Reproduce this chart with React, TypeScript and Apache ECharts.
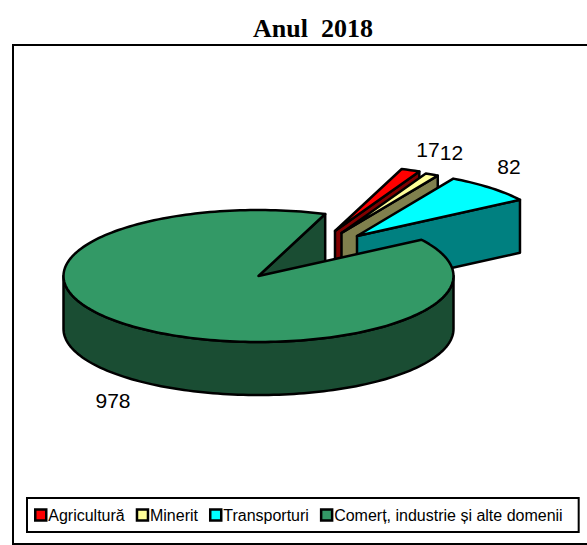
import React, { useEffect, useRef } from "react";
import * as echarts from "echarts";

const categories = ["Agricultură", "Minerit", "Transporturi", "Comerț, industrie și alte domenii"];
const values = [17, 12, 82, 978];
const titleText = "Anul  2018";

const topColors = ["#FF0000", "#FFFF99", "#00FFFF", "#339966"];
const sideColors = ["#800000", "#80804D", "#008080", "#1A4D33"];
const centers: [number, number][] = [[335, 231], [341.5, 233], [357, 236], [258.5, 276]];
const labelPos: [number, number][] = [[428, 149], [451.5, 152], [509, 166.5], [113, 400]];
const RX = 195, RY = 66, DEPTH = 53, START_DEG = 70;

const total = values.reduce((a, b) => a + b, 0);
function sliceAngles(i: number) {
  // clockwise from START_DEG, in degrees
  let acc = 0;
  for (let k = 0; k < i; k++) acc += values[k];
  const from = START_DEG - (acc / total) * 360;
  const to = from - (values[i] / total) * 360;
  return [from, to];
}
const pt = (c: [number, number], deg: number, dy = 0): [number, number] => {
  const r = (deg * Math.PI) / 180;
  return [c[0] + RX * Math.cos(r), c[1] - RY * Math.sin(r) + dy];
};
function arc(c: [number, number], a: number, b: number, dy = 0) {
  const n = Math.max(4, Math.ceil(Math.abs(a - b) / 1.5));
  const out: [number, number][] = [];
  for (let i = 0; i <= n; i++) out.push(pt(c, a + ((b - a) * i) / n, dy));
  return out;
}

function makeRender(i: number) {
  return (_p: any, api: any) => {
    const c = centers[i];
    const [from, to] = sliceAngles(i);
    const side = { fill: sideColors[i], stroke: "#000", lineWidth: 2.5, lineJoin: "round" };
    const top = { fill: topColors[i], stroke: "#000", lineWidth: 2.5, lineJoin: "round" };
    const children: any[] = [];
    const poly = (points: [number, number][], style: any) =>
      children.push({ type: "polygon", shape: { points }, style });
    const cBelow: [number, number] = [c[0], c[1] + DEPTH];
    // cut face at the clockwise end of the slice
    const e = pt(c, to);
    poly([c, e, [e[0], e[1] + DEPTH], cBelow], side);
    if (i === 3) {
      // visible front rim of the big slice
      poly([...arc(c, 180, 360), ...arc(c, 360, 180, DEPTH)], side);
    }
    poly([c, ...arc(c, from, to)], top);
    children.push({
      type: "text",
      style: {
        x: labelPos[i][0],
        y: labelPos[i][1],
        text: String(api.value(0)),
        fill: "#000",
        font: "21px 'Liberation Sans', Arial, sans-serif",
        align: "center",
        verticalAlign: "middle",
      },
    });
    return { type: "group", children };
  };
}

export default function App() {
  const ref = useRef<HTMLDivElement>(null);
  useEffect(() => {
    const chart = echarts.init(ref.current!, undefined, { renderer: "svg" });
    chart.setOption({
      animation: false,
      title: {
        text: titleText,
        left: 308,
        top: 10,
        textAlign: "center",
        textStyle: {
          fontFamily: "'Liberation Serif', 'Times New Roman', serif",
          fontWeight: "bold",
          fontSize: 26,
          color: "#000",
        },
      },
      legend: {
        left: 27,
        top: 498,
        padding: [9, 16, 9, 7],
        itemGap: 11,
        itemWidth: 11,
        itemHeight: 11,
        borderColor: "#000",
        borderWidth: 2,
        backgroundColor: "#fff",
        data: categories.map((name, i) => ({
          name,
          icon: "rect",
          itemStyle: { color: topColors[i], borderColor: "#000", borderWidth: 2.5 },
        })),
        textStyle: {
          fontFamily: "'Liberation Sans', Arial, sans-serif",
          fontSize: 16,
          color: "#000",
          padding: [0, 0, 0, -3],
        },
        selectedMode: false,
      },
      graphic: [
        {
          type: "rect",
          z: -10,
          shape: { x: 13, y: 45, width: 590, height: 499 },
          style: { fill: "#fff", stroke: "#000", lineWidth: 2 },
        },
      ],
      series: categories.map((name, i) => ({
        type: "custom",
        name,
        coordinateSystem: "none",
        z: 2 + i,
        itemStyle: { color: topColors[i] },
        data: [[values[i]]],
        renderItem: makeRender(i),
      })),
    });
    return () => chart.dispose();
  }, []);
  return <div ref={ref} style={{ position: "absolute", left: 0, top: 0, width: 587, height: 545 }} />;
}
